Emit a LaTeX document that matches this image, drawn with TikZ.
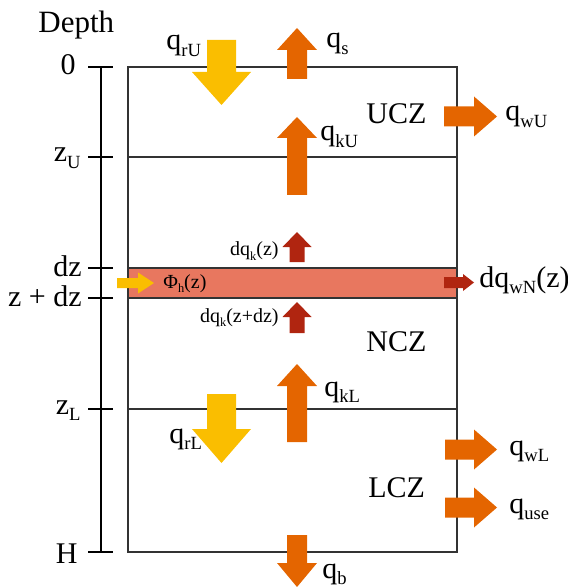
\documentclass[tikz,border=0pt]{standalone}
\usepackage{fontspec}
\setmainfont{Liberation Serif}
\usetikzlibrary{positioning}

\definecolor{fluxyellow}{HTML}{FABE00}
\definecolor{fluxorange}{HTML}{E46500}
\definecolor{fluxred}{HTML}{B02510}
\definecolor{bandred}{HTML}{E8775F}
\definecolor{boxline}{HTML}{333333}

% subscript in the style of the figure
\newcommand{\idx}[1]{\raisebox{-0.45ex}{\scalebox{0.62}{#1}}}
% block arrows: colour, axis position, tail, head base, tip, shaft half width, head half width
\newcommand{\vblock}[7]{\fill[#1] ({#2-#6},#3) -- ({#2-#6},#4) -- ({#2-#7},#4) -- (#2,#5) -- ({#2+#7},#4) -- ({#2+#6},#4) -- ({#2+#6},#3) -- cycle;}
\newcommand{\hblock}[7]{\fill[#1] (#3,{#2-#6}) -- (#4,{#2-#6}) -- (#4,{#2-#7}) -- (#5,#2) -- (#4,{#2+#7}) -- (#4,{#2+#6}) -- (#3,{#2+#6}) -- cycle;}

\begin{document}
\begin{tikzpicture}[
    x=0.5pt, y=-0.5pt,
    lbl/.style={font=\fontsize{15}{18}\selectfont, inner sep=0pt},
    smalllbl/.style={font=\fontsize{10}{12}\selectfont, inner sep=0pt},
    zone/.style={draw=boxline, line width=1pt}
]
\useasboundingbox (0,0) rectangle (567,587);

% depth axis
\node[lbl, font=\fontsize{15.5}{18}\selectfont, anchor=base west] (depth) at (38,33) {Depth};
\draw[line width=1.2pt] (101,67) -- (101,552);
\foreach \y in {67,157,268,298,409,552}
  \draw[line width=1.2pt] (88,\y) -- (113,\y);
\node[lbl, anchor=base east] (d0) at (76,75) {0};
\node[lbl, anchor=base east] (dzU) at (81,162) {z\idx{U}};
\node[lbl, anchor=base east] (ddz) at (82,276) {dz};
\node[lbl, anchor=base east] (dzdz) at (82,306) {z + dz};
\node[lbl, anchor=base east] (dzL) at (81,414) {z\idx{L}};
\node[lbl, anchor=base east] (dH) at (78,563) {H};

% column with the thin layer
\fill[bandred] (128,268) rectangle (457,298);
\draw[zone] (128,67) rectangle (457,552);
\foreach \y in {157,268,298,409}
  \draw[zone] (128,\y) -- (457,\y);

% fluxes
\vblock{fluxyellow}{221.5}{40}{72}{105}{14.5}{29.5}
\vblock{fluxorange}{297}{79}{50}{28}{10}{20}
\vblock{fluxorange}{297}{195}{138}{117}{10}{20}
\hblock{fluxorange}{116.5}{444}{474}{497}{10}{20}
\vblock{fluxred}{297}{262}{247}{232}{7.5}{14.5}
\vblock{fluxred}{297}{333}{317}{302}{7.5}{14.5}
\hblock{fluxyellow}{283}{117}{138}{154}{5}{10.5}
\hblock{fluxred}{282.5}{444}{463}{474}{5.5}{8.5}
\vblock{fluxorange}{297}{442}{386}{364}{10}{20}
\vblock{fluxyellow}{221.5}{394}{429}{463}{14.5}{29.5}
\hblock{fluxorange}{449.5}{445}{474}{497}{10}{20}
\hblock{fluxorange}{507.5}{445}{474}{497}{10}{20}
\vblock{fluxorange}{297}{535}{563}{587}{10}{20}

% labels
\node[lbl, anchor=base west] (qrU) at (166,50) {q\idx{rU}};
\node[lbl, anchor=base west] (qs) at (326,48) {q\idx{s}};
\node[lbl, anchor=base west] (qkU) at (320,141) {q\idx{kU}};
\node[lbl, anchor=base west] (ucz) at (366,124) {UCZ};
\node[lbl, anchor=base west] (qwU) at (505,121) {q\idx{wU}};
\node[smalllbl, anchor=base east] (dqkz) at (279,256) {dq\idx{k}(z)};
\node[smalllbl, anchor=base west] (phih) at (163,288) {Φ\idx{h}(z)};
\node[smalllbl, anchor=base east] (dqkzdz) at (279,322) {dq\idx{k}(z+dz)};
\node[lbl, anchor=base west] (dqwN) at (479,287) {dq\idx{wN}(z)};
\node[lbl, anchor=base west] (ncz) at (366,351) {NCZ};
\node[lbl, anchor=base west] (qkL) at (324,396) {q\idx{kL}};
\node[lbl, anchor=base west] (qrL) at (169,443) {q\idx{rL}};
\node[lbl, anchor=base west] (qwL) at (509,455) {q\idx{wL}};
\node[lbl, anchor=base west] (lcz) at (368,497) {LCZ};
\node[lbl, anchor=base west] (quse) at (509,513) {q\idx{use}};
\node[lbl, anchor=base west] (qb) at (322,578) {q\idx{b}};
\end{tikzpicture}
\end{document}
